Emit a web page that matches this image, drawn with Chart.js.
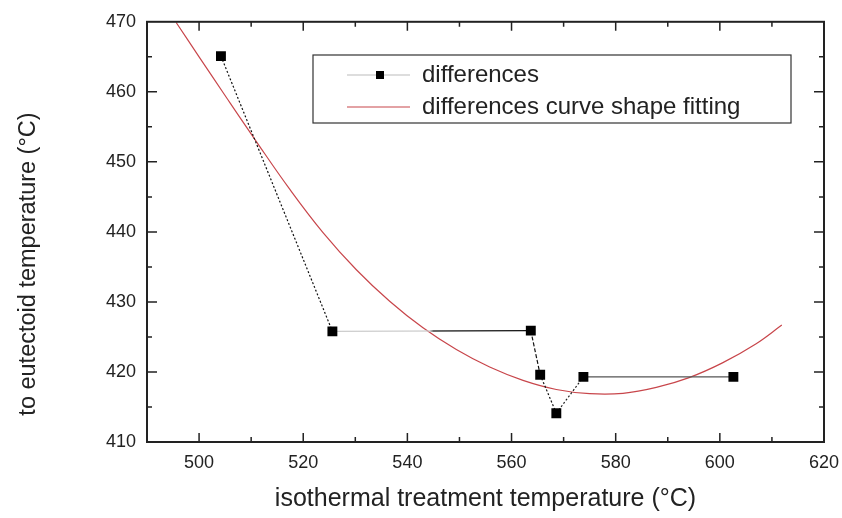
<!DOCTYPE html>
<html>
<head>
<meta charset="utf-8">
<script src="https://cdn.jsdelivr.net/npm/chart.js@4/dist/chart.umd.min.js"></script>
<style>
  html, body { margin: 0; padding: 0; background: #fff; }
  #wrap { width: 842px; height: 518px; }
</style>
</head>
<body>
<div id="wrap"><canvas id="chart"></canvas></div>
<script>
// measured points (differences)
const diffX = [504.2, 525.6, 563.7, 565.5, 568.6, 573.8, 602.6];
const diffY = [465.1, 425.8, 425.9, 419.6, 414.1, 419.3, 419.3];

// fitted curve
const fitX = [495.6, 500.0, 504.6, 511.0, 517.4, 523.8, 530.2, 536.6, 543.0, 549.4,
              555.8, 562.2, 568.6, 575.0, 581.4, 587.8, 594.1, 600.5, 606.9, 611.9];
const fitY = [469.9, 465.0, 459.9, 452.9, 446.1, 439.9, 434.6, 430.1, 426.3, 423.2,
              420.7, 418.8, 417.5, 416.9, 416.95, 417.8, 419.2, 421.3, 424.0, 426.7];

const seriesNames = ["differences", "differences curve shape fitting"];
const xTitle = "isothermal treatment temperature (\u00B0C)";
const yTitle = "to eutectoid temperature (\u00B0C)";

const xRange = [490, 620];
const yRange = [410, 470];

// ===========================
// styles for each segment of the measured line
// ===========================
const segDash = [[2, 2], [], [4, 2], [2, 2], [2, 2], []];
const segColor = ["#111", null, "#111", "#111", "#222", "#555"];

const FONT = "Arial, 'Liberation Sans', sans-serif";

function segmentColor(c) {
  const i = c.p0DataIndex;
  if (segColor[i]) return segColor[i];
  // light grey first half, black second half
  const g = c.chart.ctx.createLinearGradient(c.p0.x, 0, c.p1.x, 0);
  g.addColorStop(0, "#ccc");
  g.addColorStop(0.49, "#ccc");
  g.addColorStop(0.51, "#111");
  g.addColorStop(1, "#111");
  return g;
}

// inward tick marks + frame + axis titles
const frameTicks = {
  id: "frameTicks",
  afterDraw(chart) {
    const { ctx, chartArea: a, scales } = chart;
    ctx.save();
    ctx.strokeStyle = "#222";
    ctx.lineWidth = 1.5;
    ctx.beginPath();
    scales.x.ticks.forEach((t) => {
      const px = scales.x.getPixelForValue(t.value);
      if (Math.abs(px - a.left) < 2 || Math.abs(px - a.right) < 2) return;
      const len = t.value % 20 === 0 ? 9 : 5;
      ctx.moveTo(px, a.bottom); ctx.lineTo(px, a.bottom - len);
      ctx.moveTo(px, a.top); ctx.lineTo(px, a.top + len);
    });
    scales.y.ticks.forEach((t) => {
      const py = scales.y.getPixelForValue(t.value);
      if (Math.abs(py - a.top) < 2 || Math.abs(py - a.bottom) < 2) return;
      const len = t.value % 10 === 0 ? 10 : 5;
      ctx.moveTo(a.left, py); ctx.lineTo(a.left + len, py);
      ctx.moveTo(a.right, py); ctx.lineTo(a.right - len, py);
    });
    ctx.stroke();
    ctx.lineWidth = 2;
    ctx.strokeRect(a.left, a.top, a.right - a.left, a.bottom - a.top);

    ctx.fillStyle = "#222";
    ctx.textAlign = "center";
    ctx.textBaseline = "middle";
    ctx.font = "25px " + FONT;
    ctx.fillText(xTitle, (a.left + a.right) / 2, 499);
    ctx.save();
    ctx.translate(29, 264);
    ctx.rotate(-Math.PI / 2);
    ctx.font = "23.5px " + FONT;
    ctx.fillText(yTitle, 0, 0);
    ctx.restore();
    ctx.restore();
  },
};

// boxed legend inside the plot
const boxLegend = {
  id: "boxLegend",
  afterDraw(chart) {
    const { ctx } = chart;
    const box = { x: 313, y: 55, w: 478, h: 68 };
    const rows = [75, 107];
    ctx.save();
    ctx.fillStyle = "#fff";
    ctx.fillRect(box.x, box.y, box.w, box.h);
    ctx.strokeStyle = "#333";
    ctx.lineWidth = 1.2;
    ctx.strokeRect(box.x, box.y, box.w, box.h);
    chart.data.datasets.forEach((ds, i) => {
      const y = rows[i];
      ctx.beginPath();
      ctx.strokeStyle = i === 0 ? "#bbb" : ds.borderColor;
      ctx.lineWidth = 1.2;
      ctx.moveTo(347, y);
      ctx.lineTo(410, y);
      ctx.stroke();
      if (i === 0) {
        ctx.fillStyle = "#000";
        ctx.fillRect(376, y - 4, 8, 8);
      }
      ctx.fillStyle = "#222";
      ctx.font = "24px " + FONT;
      ctx.textAlign = "left";
      ctx.textBaseline = "middle";
      ctx.fillText(ds.label, 422, y);
    });
    ctx.restore();
  },
};

const ctx = document.getElementById("chart").getContext("2d");

new Chart(ctx, {
  type: "scatter",
  data: {
    datasets: [
      {
        label: seriesNames[0],
        data: diffX.map((x, i) => ({ x: x, y: diffY[i] })),
        showLine: true,
        borderColor: "#222",
        borderWidth: 1.2,
        pointStyle: "rect",
        pointRadius: 7,
        pointBackgroundColor: "#000",
        pointBorderWidth: 0,
        segment: {
          borderDash: (c) => segDash[c.p0DataIndex],
          borderColor: segmentColor,
        },
        order: 0,
      },
      {
        label: seriesNames[1],
        data: fitX.map((x, i) => ({ x: x, y: fitY[i] })),
        showLine: true,
        borderColor: "#c8464b",
        borderWidth: 1.2,
        pointRadius: 0,
        tension: 0.4,
        order: 1,
      },
    ],
  },
  options: {
    responsive: true,
    maintainAspectRatio: false,
    animation: false,
    layout: { padding: { top: 19, right: 18, left: 0, bottom: 0 } },
    plugins: {
      legend: { display: false },
      tooltip: { enabled: false },
    },
    scales: {
      x: {
        type: "linear",
        min: xRange[0],
        max: xRange[1],
        grid: { display: false, drawTicks: false },
        border: { display: false },
        ticks: {
          stepSize: 10,
          autoSkip: false,
          maxRotation: 0,
          padding: 10,
          color: "#222",
          font: { size: 18, family: FONT },
          callback: (v) => (v % 20 === 0 ? v : ""),
        },
        afterFit: (s) => {
          s.height = 76;
          s.paddingLeft = 0;
          s.paddingRight = 0;
        },
      },
      y: {
        type: "linear",
        min: yRange[0],
        max: yRange[1],
        grid: { display: false, drawTicks: false },
        border: { display: false },
        ticks: {
          stepSize: 5,
          autoSkip: false,
          padding: 11,
          color: "#222",
          font: { size: 18, family: FONT },
          callback: (v) => (v % 10 === 0 ? v : ""),
        },
        afterFit: (s) => { s.width = 147; },
      },
    },
  },
  plugins: [frameTicks, boxLegend],
});
</script>
</body>
</html>
